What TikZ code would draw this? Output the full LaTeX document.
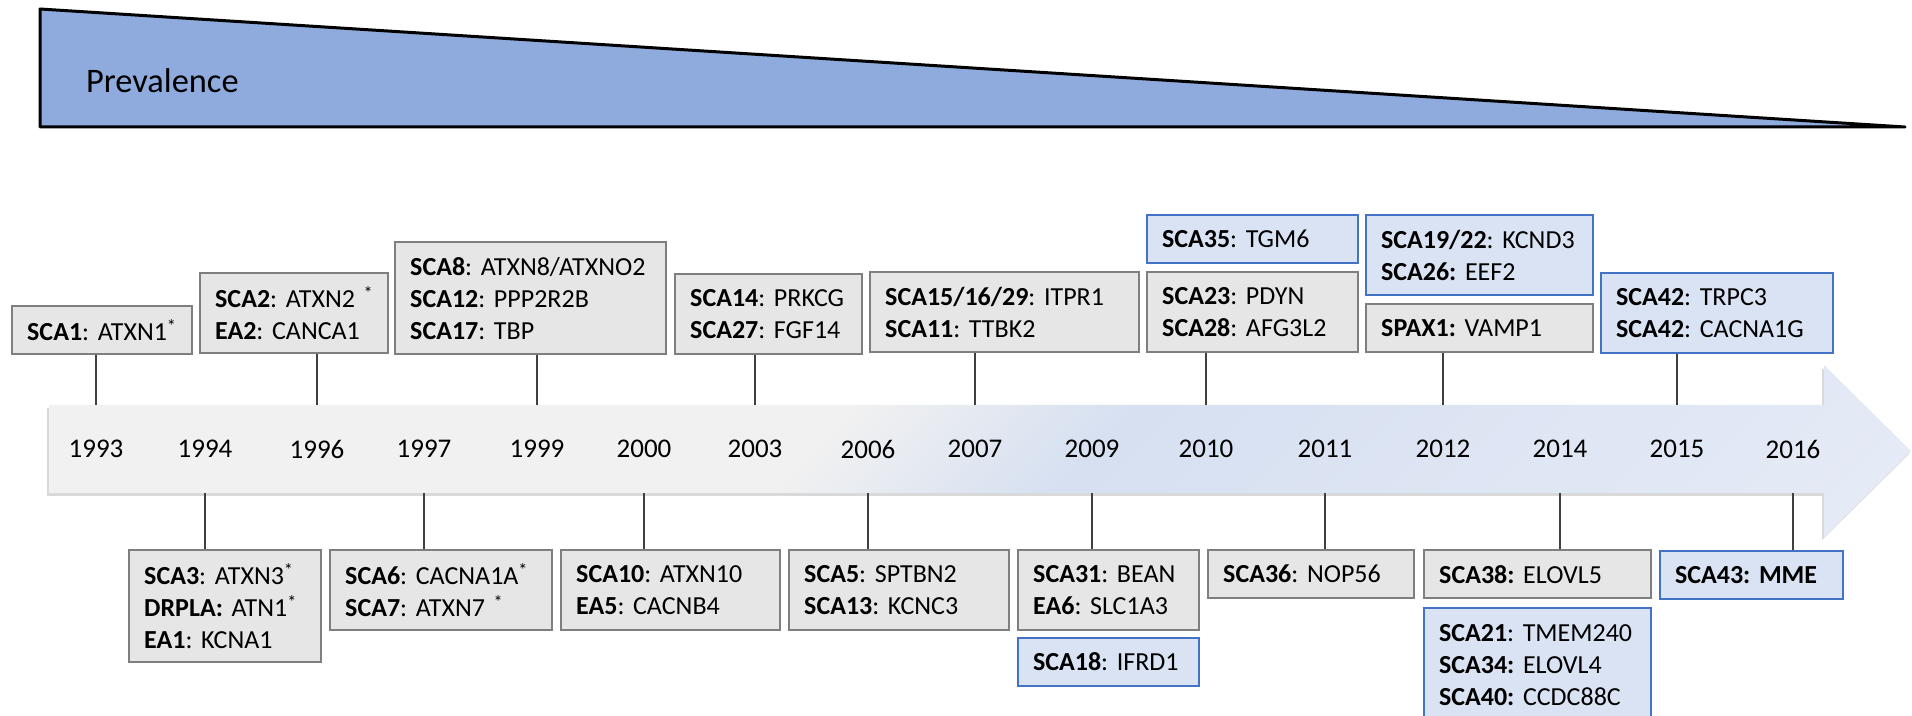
\documentclass[tikz,border=0pt]{standalone}
\usepackage{fontspec}
\setmainfont{Carlito}
\usepackage{tikz}
\usetikzlibrary{shadows}

\definecolor{prevblue}{RGB}{143,170,220}
\definecolor{boxgray}{RGB}{231,230,230}
\definecolor{linegray}{RGB}{127,127,127}
\definecolor{newblue}{RGB}{218,227,243}
\definecolor{newline}{RGB}{68,114,196}
\definecolor{tlgray}{RGB}{241,241,241}
\definecolor{tlblue}{RGB}{214,224,241}
\definecolor{tlmid}{RGB}{223,230,244}
\definecolor{tlhead}{RGB}{236,240,248}

% timeline fill: gray on the left, blue band, lighter towards the tip
\pgfdeclareverticalshading{timeline}{100bp}{color(0bp)=(tlhead); color(30bp)=(tlmid);
  color(46bp)=(tlblue); color(56bp)=(tlgray); color(100bp)=(tlgray)}

\begin{document}
\begin{tikzpicture}[
    x=0.5pt, y=-0.5pt,
    prevalence/.style = {fill=prevblue, draw=black, line width=1.5pt, line join=round},
    gene/.style = {anchor=north west, align=left, inner xsep=7.5pt, inner ysep=3pt,
      font=\fontsize{13}{16}\selectfont\frenchspacing},
    oldgene/.style = {gene, draw=linegray, fill=boxgray, line width=1.2pt},
    newgene/.style = {gene, draw=newline, fill=newblue, line width=1pt},
    h1/.style = {minimum height=24pt},
    h2/.style = {minimum height=40pt},
    h3/.style = {minimum height=56pt},
    year/.style = {minimum height=44pt, inner sep=0pt, font=\fontsize{13.5}{16}\selectfont},
    tick/.style = {draw=black!75, line width=0.6pt}
  ]
  \useasboundingbox (0,0) rectangle (1912,716);

  % prevalence wedge
  \draw[prevalence] (40,9) -- (1905,127) -- (40,127) -- cycle;
  \node[anchor=base west, font=\fontsize{17.2}{20}\selectfont] (prevtext) at (79,93) {Prevalence};

  % time arrow
  \path[shade, shading=timeline, shading angle=45,
        drop shadow={opacity=0.3, shadow xshift=-1pt, shadow yshift=-1.5pt}]
    (49,405) -- (1824,405) -- (1824,365) -- (1911,451) -- (1824,537)
    -- (1824,493) -- (49,493) -- cycle;

  \foreach \yr/\x in {1993/96, 1994/205, 1996/317, 1997/424, 1999/537, 2000/644,
      2003/755, 2006/868, 2007/975, 2009/1092, 2010/1206, 2011/1325,
      2012/1443, 2014/1560, 2015/1677, 2016/1793}
    \node[year] (y\yr) at (\x,449) {\yr};

  % genes above the arrow
  \node[oldgene, h1, text width=75pt] (sca1) at (11,305) {\textbf{SCA1}:~ATXN1\textsuperscript{*}};
  \node[oldgene, h2, text width=79pt] (sca2) at (199,272) {\textbf{SCA2}:~ATXN2~\textsuperscript{*}\\ \textbf{EA2}:~CANCA1};
  \node[oldgene, h3, text width=120.5pt] (sca8) at (394,241) {\textbf{SCA8}:~ATXN8/ATXNO2\\ \textbf{SCA12}:~PPP2R2B\\ \textbf{SCA17}:~TBP};
  \node[oldgene, h2, text width=78.5pt] (sca14) at (674,273) {\textbf{SCA14}:~PRKCG\\ \textbf{SCA27}:~FGF14};
  \node[oldgene, h2, text width=119.5pt] (sca15) at (869,271) {\textbf{SCA15/16/29}:~ITPR1\\ \textbf{SCA11}:~TTBK2};
  \node[newgene, h1, text width=90.5pt] (sca35) at (1146,214) {\textbf{SCA35}:~TGM6};
  \node[oldgene, h2, text width=90.5pt] (sca23) at (1146,271) {\textbf{SCA23}:~PDYN\\ \textbf{SCA28}:~AFG3L2};
  \node[newgene, h2, text width=98.5pt] (sca19) at (1365,214) {\textbf{SCA19/22}:~KCND3\\ \textbf{SCA26:}~EEF2};
  \node[oldgene, h1, text width=98.5pt] (spax1) at (1365,303) {\textbf{SPAX1:}~VAMP1};
  \node[newgene, h2, text width=101pt] (sca42) at (1600,272) {\textbf{SCA42}:~TRPC3\\ \textbf{SCA42}:~CACNA1G};

  % genes below the arrow
  \node[oldgene, h3, text width=81pt] (sca3) at (128,549) {\textbf{SCA3}:~ATXN3\textsuperscript{*}\\ \textbf{DRPLA:}~ATN1\textsuperscript{*}\\ \textbf{EA1}:~KCNA1};
  \node[oldgene, h2, text width=96pt] (sca6) at (329,549) {\textbf{SCA6}:~CACNA1A\textsuperscript{*}\\ \textbf{SCA7}:~ATXN7~\textsuperscript{*}};
  \node[oldgene, h2, text width=94.5pt] (sca10) at (560,549) {\textbf{SCA10}:~ATXN10\\ \textbf{EA5}:~CACNB4};
  \node[oldgene, h2, text width=95pt] (sca5) at (788,549) {\textbf{SCA5}:~SPTBN2\\ \textbf{SCA13}:~KCNC3};
  \node[oldgene, h2, text width=75.5pt] (sca31) at (1017,549) {\textbf{SCA31}:~BEAN\\ \textbf{EA6}:~SLC1A3};
  \node[newgene, h1, text width=75.5pt] (sca18) at (1017,637) {\textbf{SCA18}:~IFRD1};
  \node[oldgene, h1, text width=88pt] (sca36) at (1207,549) {\textbf{SCA36}:~NOP56};
  \node[oldgene, h1, text width=98.5pt] (sca38) at (1423,549) {\textbf{SCA38:}~ELOVL5};
  \node[newgene, text width=98.5pt, minimum height=57pt] (sca21) at (1423,607) {\textbf{SCA21}:~TMEM240\\ \textbf{SCA34:}~ELOVL4\\ \textbf{SCA40:}~CCDC88C};
  \node[newgene, h1, text width=76.5pt] (sca43) at (1659,550) {\textbf{SCA43:~MME}};

  % ticks from the years to the boxes
  \foreach \yr/\bx in {1993/sca1, 1996/sca2, 1999/sca8, 2003/sca14, 2007/sca15,
      2010/sca23, 2012/spax1, 2015/sca42}
    \draw[tick] (\bx.south -| y\yr) -- (y\yr.north);
  \foreach \yr/\bx in {1994/sca3, 1997/sca6, 2000/sca10, 2006/sca5, 2009/sca31,
      2011/sca36, 2014/sca38, 2016/sca43}
    \draw[tick] (y\yr.south) -- (\bx.north -| y\yr);

\end{tikzpicture}
\end{document}
